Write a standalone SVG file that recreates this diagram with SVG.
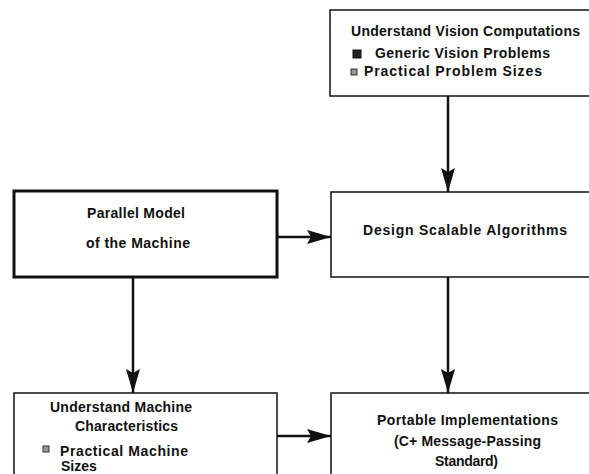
<svg xmlns="http://www.w3.org/2000/svg" width="589" height="474" viewBox="0 0 589 474">
<defs>
<style>
.box{fill:#fff;stroke:#111;stroke-width:1.5}
.thick{fill:#fff;stroke:#111;stroke-width:3}
.t{font-family:"Liberation Sans",Arial,sans-serif;font-weight:bold;font-size:14px;fill:#111}
.ln{stroke:#111;stroke-width:2.5;fill:none}
</style>
<marker id="ah" viewBox="0 0 24 14" refX="24" refY="7" markerUnits="userSpaceOnUse" markerWidth="24" markerHeight="14" orient="auto">
<path d="M0,0 L24,7 L0,14 L4,7 Z" fill="#111"/>
</marker>
</defs>
<rect width="589" height="474" fill="#fff"/>
<g id="connectors">
<line class="ln" x1="448" y1="96" x2="448" y2="192" marker-end="url(#ah)"/>
<line class="ln" x1="448" y1="277" x2="448" y2="393" marker-end="url(#ah)"/>
<line class="ln" x1="133" y1="278" x2="133" y2="393" marker-end="url(#ah)"/>
<line class="ln" x1="278" y1="237" x2="331" y2="237" marker-end="url(#ah)"/>
<line class="ln" x1="277" y1="436" x2="331" y2="436" marker-end="url(#ah)"/>
</g>
<g id="vision">
<rect class="box" x="330" y="10" width="270" height="86"/>
<text class="t" x="351" y="36" textLength="229">Understand Vision Computations</text>
<rect x="353" y="50" width="8" height="8" fill="#222" stroke="#111"/>
<text class="t" x="375" y="58" textLength="175">Generic Vision  Problems</text>
<rect x="351" y="69" width="6" height="6" fill="#999" stroke="#333"/>
<text class="t" x="364" y="76" textLength="178">Practical  Problem  Sizes</text>
</g>
<g id="parallel">
<rect class="thick" x="14" y="191" width="263" height="86"/>
<text class="t" x="87" y="218" textLength="98">Parallel  Model</text>
<text class="t" x="86" y="248" textLength="104">of  the Machine</text>
</g>
<g id="design">
<rect class="box" x="331" y="192" width="270" height="85"/>
<text class="t" x="363" y="235" textLength="204">Design  Scalable  Algorithms</text>
</g>
<g id="machine">
<rect class="box" x="14" y="393" width="263" height="90"/>
<text class="t" x="50" y="412" textLength="142">Understand  Machine</text>
<text class="t" x="75" y="431" textLength="103">Characteristics</text>
<rect x="43" y="446" width="6" height="6" fill="#999" stroke="#333"/>
<text class="t" x="60" y="456" textLength="128">Practical  Machine</text>
<text class="t" x="61" y="471">Sizes</text>
</g>
<g id="portable">
<rect class="box" x="331" y="393" width="270" height="90"/>
<text class="t" x="377" y="425" textLength="181">Portable  Implementations</text>
<text class="t" x="394" y="446" textLength="147">(C+ Message-Passing</text>
<text class="t" x="435" y="466" textLength="63">Standard)</text>
</g>
</svg>
